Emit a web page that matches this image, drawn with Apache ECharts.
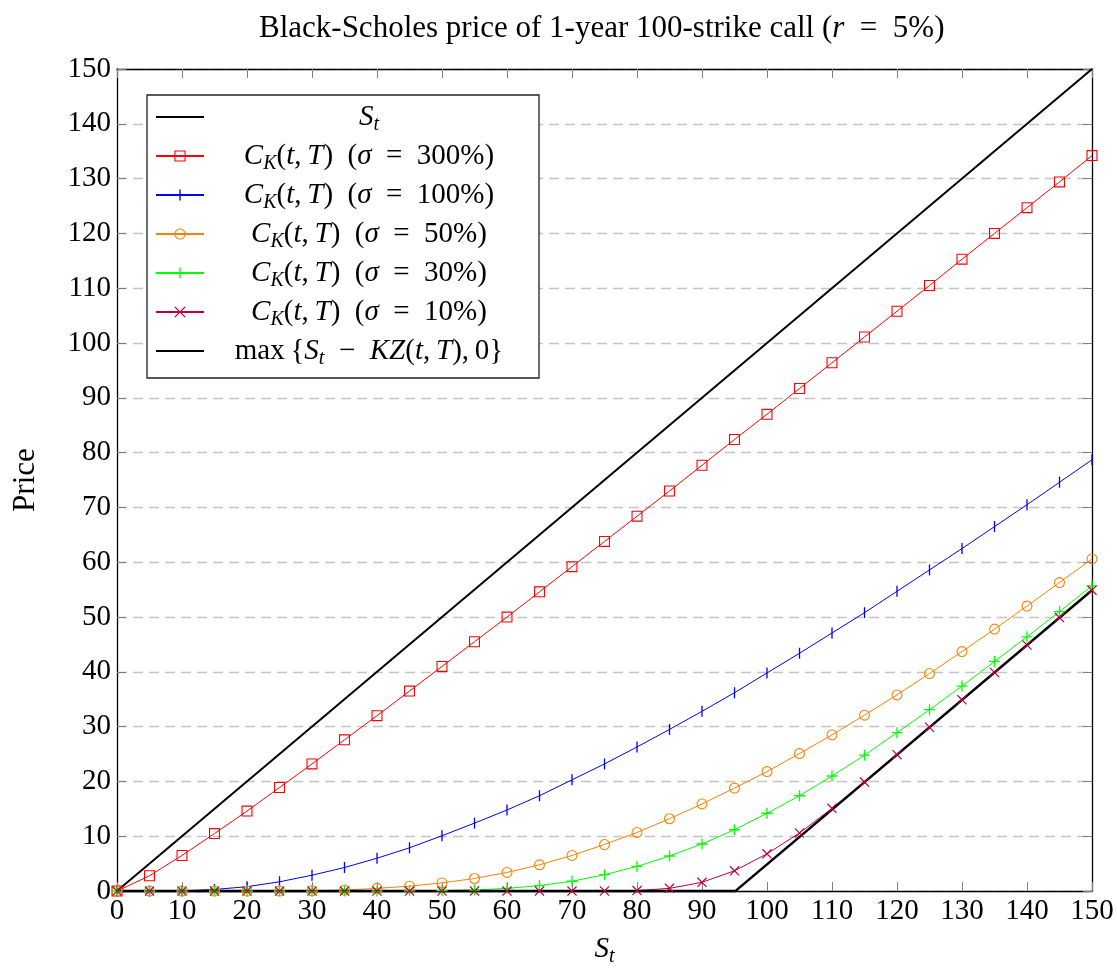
<!DOCTYPE html>
<html>
<head>
<meta charset="utf-8">
<script src="https://cdn.jsdelivr.net/npm/echarts@6/dist/echarts.min.js"></script>
<style>
html,body{margin:0;padding:0;background:#fff;}
#chart{width:1117px;height:972px;}
</style>
</head>
<body>
<div id="chart"></div>
<script>
// ---- data ----
const spot = [0,5,10,15,20,25,30,35,40,45,50,55,60,65,70,75,80,85,90,95,100,105,110,115,120,125,130,135,140,145,150];
const call300 = [0,2.8,6.5,10.5,14.6,18.9,23.2,27.6,32.0,36.5,41.0,45.5,50.0,54.6,59.2,63.8,68.4,73.0,77.7,82.4,87.0,91.7,96.4,101.1,105.8,110.5,115.3,120.0,124.7,129.4,134.2];
const call100 = [0,0,0.05,0.3,0.8,1.7,2.9,4.3,6.0,7.9,10.1,12.4,14.8,17.4,20.3,23.2,26.3,29.5,32.8,36.2,39.8,43.4,47.1,50.8,54.7,58.6,62.5,66.5,70.5,74.6,78.7];
const call50 = [0,0,0,0,0,0,0.05,0.2,0.5,0.9,1.5,2.3,3.4,4.8,6.5,8.5,10.7,13.2,15.9,18.8,21.8,25.1,28.5,32.1,35.8,39.7,43.7,47.8,52.0,56.3,60.6];
const call30 = [0,0,0,0,0,0,0,0,0,0.05,0.1,0.2,0.5,1.0,1.8,3.0,4.5,6.4,8.6,11.2,14.2,17.4,21.0,24.8,28.9,33.1,37.4,41.9,46.4,51.0,55.7];
const call10 = [0,0,0,0,0,0,0,0,0,0,0,0,0,0,0,0.02,0.1,0.5,1.6,3.7,6.8,10.6,15.1,19.9,24.9,29.9,34.9,39.9,44.9,49.9,54.9];
const spotLine = [[0,0],[150,150]];
const payoff = [[0,0],[95.12,0],[150,54.88]];
const xTicks = {min:0, max:150, step:10};
const yTicks = {min:0, max:150, step:10};
const sigmas = ['300','100','50','30','10'];

const seriesNames = ['St','s300','s100','s50','s30','s10','payoff'];
const pair = ys => spot.map((x,i)=>[x, ys[i]]);

// ---- styling ----
const FONT = '"Liberation Serif","DejaVu Serif",serif';
const FS = 29;
const SYM_NONE = 'path://M0,0M10,10';
const SYM_SQUARE = 'path://M0,0h10v10h-10zM1,1v8h8v-8z';
const SYM_BAR = 'path://M0,0M10,10M4.4,0h1.2v10h-1.2z';
const SYM_CIRCLE = 'path://M5,0A5,5,0,1,1,5,10A5,5,0,1,1,5,0ZM5,1A4,4,0,1,0,5,9A4,4,0,1,0,5,1Z';
const SYM_PLUS = 'path://M4.4,0h1.2v10h-1.2zM0,4.4h10v1.2h-10z';
const SYM_CROSS = 'path://M0,0.85L0.85,0L10,9.15L9.15,10ZM10,0.85L0.85,10L0,9.15L9.15,0Z';

const rich = {
  rm: {fontFamily: FONT, fontSize: FS, color:'#000', lineHeight:30},
  it: {fontFamily: FONT, fontSize: FS, fontStyle:'italic', color:'#000', lineHeight:30},
  sub: {fontFamily: FONT, fontSize: 20, fontStyle:'italic', color:'#000', lineHeight:14, padding:[16,0,0,0]}
};
const EQ = '\u2002=\u2002';
function callSegs(p){
  return [['it','C'],['sub','K'],['rm','('],['it','t'],['rm',',\u2009'],['it','T'],['rm',')\u2002('],['it','σ'],['rm',EQ+p+'%)']];
}
const legendSegs = {
  St: [['it','S'],['sub','t']],
  s300: callSegs(sigmas[0]),
  s100: callSegs(sigmas[1]),
  s50: callSegs(sigmas[2]),
  s30: callSegs(sigmas[3]),
  s10: callSegs(sigmas[4]),
  payoff: [['rm','max\u2009{'],['it','S'],['sub','t'],['rm','\u2002−\u2002'],['it','KZ'],['rm','('],['it','t'],['rm',',\u2009'],['it','T'],['rm','),\u20090'],['plain','}']]
};
const TEXT_W = 320;
const mctx = document.createElement('canvas').getContext('2d');
function measure(segs){
  let w = 0;
  segs.forEach(([s,t])=>{
    const st = rich[s === 'plain' ? 'rm' : s];
    mctx.font = (st.fontStyle||'normal') + ' ' + st.fontSize + 'px ' + st.fontFamily;
    w += mctx.measureText(t).width;
  });
  return w;
}
const legendText = {};
seriesNames.forEach((n,i)=>{
  const segs = legendSegs[n];
  const w = measure(segs);
  rich['sp'+i] = {width: Math.max(0,(TEXT_W - w)/2), fontSize: FS, lineHeight:30};
  legendText[n] = '{sp'+i+'| }' + segs.map(([s,t]) => s === 'plain' ? t : '{'+s+'|'+t+'}').join('');
});

function mk(name, data, color, symbol, width, size){
  return {
    name, type:'line', data, clip:false,
    symbol: symbol || SYM_NONE, symbolSize: size || 11, showSymbol: !!symbol,
    lineStyle:{color, width: width||1},
    itemStyle:{color},
    emphasis:{disabled:true},
    animation:false
  };
}

const chart = echarts.init(document.getElementById('chart'), null, {renderer:'canvas'});
const axisCommon = {
  type:'value', min:xTicks.min, max:xTicks.max, interval:xTicks.step,
  axisLine:{show:true, onZero:false, lineStyle:{color:'#000', width:1.3}},
  axisTick:{show:true, inside:true, length:9, lineStyle:{color:'#7f7f7f', width:1}},
  splitLine:{show:false}
};
chart.setOption({
  animation:false,
  backgroundColor:'#fff',
  title:{
    text:'{t|Black-Scholes price of 1-year 100-strike call (}{ti|r}{t|\u2002=\u20025%)}',
    left:259, top:13, padding:0,
    textStyle:{fontWeight:'normal', rich:{
      t:{fontFamily:FONT, fontSize:31, color:'#000', fontWeight:'normal'},
      ti:{fontFamily:FONT, fontSize:31, fontStyle:'italic', color:'#000', fontWeight:'normal'}
    }}
  },
  grid:{left:117, right:25, top:69, bottom:79, containLabel:false},
  xAxis:[
    Object.assign({}, axisCommon, {
      position:'bottom',
      name:'{it|S}{sub|t}', nameLocation:'middle', nameGap:40,
      nameTextStyle:{rich},
      axisLabel:{fontFamily:FONT, fontSize:FS, color:'#000', margin:6}
    }),
    Object.assign({}, axisCommon, {position:'top', axisLabel:{show:false}})
  ],
  yAxis:[
    Object.assign({}, axisCommon, {
      min:yTicks.min, max:yTicks.max, interval:yTicks.step,
      position:'left',
      name:'Price', nameLocation:'middle', nameGap:76, nameRotate:90,
      nameTextStyle:{fontFamily:FONT, fontSize:31, color:'#000'},
      axisLabel:{fontFamily:FONT, fontSize:FS, color:'#000', margin:6},
      splitLine:{show:true, lineStyle:{color:'#c4c4c4', width:1.3, type:[10,6]}}
    }),
    Object.assign({}, axisCommon, {
      min:yTicks.min, max:yTicks.max, interval:yTicks.step,
      position:'right', axisLabel:{show:false}
    })
  ],
  legend:{
    orient:'vertical', left:147, top:95,
    data: seriesNames,
    backgroundColor:'#fff', borderColor:'#222', borderWidth:1.3,
    padding:[4,10,9,8], itemWidth:48, itemHeight:14, itemGap:3,
    selectedMode:false,
    formatter: n => legendText[n],
    textStyle:{width:TEXT_W, fontFamily:FONT, fontSize:FS, color:'#000', lineHeight:30, rich}
  },
  series:[
    mk('St', spotLine, '#000', null, 2),
    mk('s300', pair(call300), '#ff0000', SYM_SQUARE, 1, 11),
    mk('s100', pair(call100), '#0000ff', SYM_BAR, 1, 11),
    mk('s50', pair(call50), '#ff8000', SYM_CIRCLE, 1, 11),
    mk('s30', pair(call30), '#00ff00', SYM_PLUS, 1, 11),
    mk('s10', pair(call10), '#bf0040', SYM_CROSS, 1, 10),
    mk('payoff', payoff, '#000', null, 2.5)
  ]
});
</script>
</body>
</html>
